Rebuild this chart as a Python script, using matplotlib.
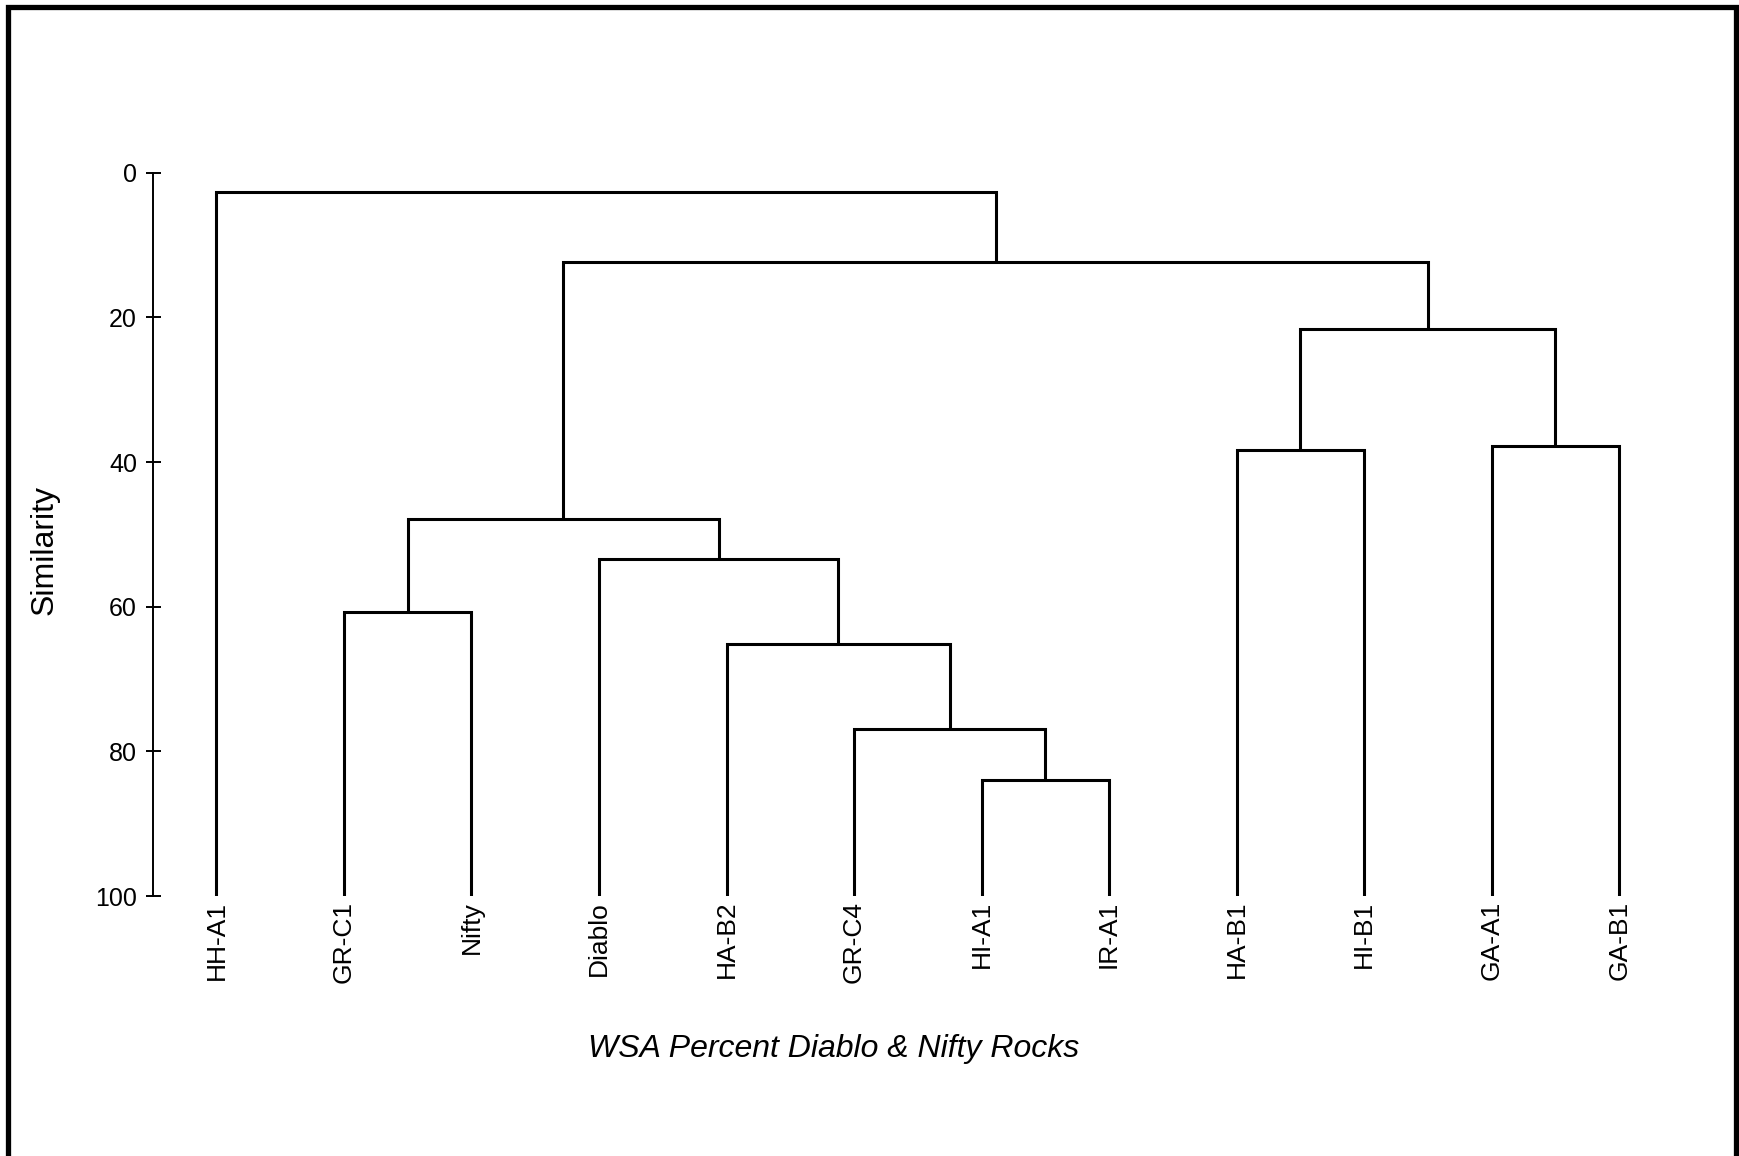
import matplotlib
matplotlib.use("Agg")
import matplotlib.pyplot as plt
from matplotlib.patches import Rectangle

plt.rcParams['font.family'] = ['Liberation Sans', 'DejaVu Sans']

# ---- data -------------------------------------------------------------
leaf_labels = ['HH-A1', 'GR-C1', 'Nifty', 'Diablo', 'HA-B2', 'GR-C4',
               'HI-A1', 'IR-A1', 'HA-B1', 'HI-B1', 'GA-A1', 'GA-B1']
# merges: new cluster ids start at len(leaf_labels) (12)
merge_left = [6, 5, 4, 1, 3, 15, 8, 10, 18, 17, 0]
merge_right = [7, 12, 13, 2, 14, 16, 9, 11, 19, 20, 21]
merge_similarity = [83.9, 76.9, 65.1, 60.8, 53.4, 47.9, 38.3, 37.8, 21.6, 12.4, 2.6]
leaf_level = 100.0
y_ticks = [0, 20, 40, 60, 80, 100]

# ---- figure -----------------------------------------------------------
W, H = 1739, 1156
fig = plt.figure(figsize=(W / 100, H / 100), dpi=100)

ax_left_px, ax_right_px = 152.7, 1682.9
ax_top_px, ax_bot_px = 172.7, 896.0
ax = fig.add_axes([ax_left_px / W, 1 - ax_bot_px / H,
                   (ax_right_px - ax_left_px) / W, (ax_bot_px - ax_top_px) / H])

n = len(leaf_labels)
xpos = {i: float(i) for i in range(n)}
ypos = {i: leaf_level for i in range(n)}
for k, (a, b, h) in enumerate(zip(merge_left, merge_right, merge_similarity)):
    cid = n + k
    ax.plot([xpos[a], xpos[a], xpos[b], xpos[b]],
            [ypos[a], h, h, ypos[b]],
            color='black', lw=2.2, solid_joinstyle='miter', solid_capstyle='butt')
    xpos[cid] = (xpos[a] + xpos[b]) / 2
    ypos[cid] = h

ax.set_xlim(-0.5, 11.5)
ax.set_ylim(100, 0)

for s in ['top', 'right', 'bottom']:
    ax.spines[s].set_visible(False)
ax.spines['left'].set_linewidth(1.4)
ax.spines['left'].set_bounds(0, 100)

ax.set_yticks(y_ticks)
ax.set_yticklabels([str(t) for t in y_ticks])
ax.tick_params(axis='y', direction='inout', length=10.8, width=1.4,
               pad=5.9, labelsize=18, colors='black')

ax.set_xticks(range(n))
ax.set_xticklabels(leaf_labels, rotation=90, fontsize=19)
ax.tick_params(axis='x', length=0, pad=3.5)

fig.text(45 / W, 1 - 550 / H, 'Similarity', rotation=90, fontsize=23,
         ha='center', va='center')
fig.text(834 / W, 1 - 1049 / H, 'WSA Percent Diablo & Nifty Rocks',
         fontsize=23, style='italic', ha='center', va='center')

# outer frame (bottom edge lies outside the picture)
bx0, bx1 = 8 / W, 1735.5 / W
by1 = 1 - 6.5 / H
fig.patches.append(Rectangle((bx0, -0.05), bx1 - bx0, by1 + 0.05,
                             transform=fig.transFigure, fill=False,
                             edgecolor='black', lw=3.8, joinstyle='miter'))

fig.savefig('out.png', dpi=100)
